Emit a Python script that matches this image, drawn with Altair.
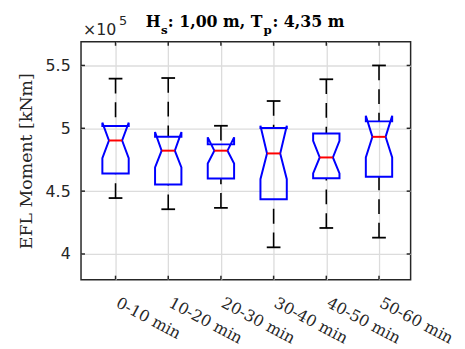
import altair as alt
import pandas as pd

# ---------------- data (values in units of 10^5 kNm) ----------------
categories = ["0-10 min", "10-20 min", "20-30 min", "30-40 min", "40-50 min", "50-60 min"]
positions = [1, 2, 3, 4, 5, 6]
lower_whisker = [4.445, 4.356, 4.367, 4.053, 4.207, 4.130]
q1 = [4.641, 4.553, 4.600, 4.435, 4.602, 4.615]
notch_low = [4.762, 4.688, 4.720, 4.595, 4.641, 4.768]
median = [4.903, 4.822, 4.822, 4.800, 4.768, 4.932]
notch_high = [5.045, 4.970, 4.928, 5.020, 4.900, 5.100]
q3 = [5.018, 4.932, 4.872, 5.003, 4.958, 5.055]
upper_whisker = [5.395, 5.400, 5.020, 5.217, 5.390, 5.500]

y_ticks = [4, 4.5, 5, 5.5]
y_domain = [3.796, 5.688]
x_domain = [0.345, 6.60]

# ---------------- style ----------------
W, H = 334, 241
BOX_HW, NOTCH_HW, CAP_HW = 0.25, 0.125, 0.13
AX = "#262626"
SERIF = "DejaVu Serif"
SANS = "DejaVu Sans"

stats = pd.DataFrame({
    "pos": positions, "cat": categories, "lo": lower_whisker, "q1": q1,
    "nlo": notch_low, "med": median, "nhi": notch_high, "q3": q3, "hi": upper_whisker,
})
stats["cap_l"] = stats["pos"] - CAP_HW
stats["cap_r"] = stats["pos"] + CAP_HW
stats["med_l"] = stats["pos"] - NOTCH_HW
stats["med_r"] = stats["pos"] + NOTCH_HW

# notched outline built from the stats
rows = []
for _, r in stats.iterrows():
    p = r["pos"]
    pts = [(p, r.q1), (p - BOX_HW, r.q1), (p - BOX_HW, r.nlo), (p - NOTCH_HW, r.med),
           (p - BOX_HW, r.nhi), (p - BOX_HW, r.q3), (p + BOX_HW, r.q3), (p + BOX_HW, r.nhi),
           (p + NOTCH_HW, r.med), (p + BOX_HW, r.nlo), (p + BOX_HW, r.q1), (p, r.q1)]
    for k, (xx, yy) in enumerate(pts):
        rows.append({"box": r["cat"], "ord": k, "x": xx, "y": yy})
outline = pd.DataFrame(rows)

label_expr = "[" + ",".join(f"'{c}'" for c in categories) + "][round(datum.value) - 1]"

x_scale = alt.Scale(domain=x_domain, nice=False, zero=False)
y_scale = alt.Scale(domain=y_domain, nice=False, zero=False)
x_axis = alt.Axis(values=positions, labelExpr=label_expr, grid=True, ticks=False, tickSize=0,
                  domain=False, title=None, labelAngle=28, labelAlign="left",
                  labelBaseline="top", labelPadding=15, labelOffset=5,
                  labelFont=SERIF, labelFontSize=16,
                  labelColor=AX, labelOverlap=False, labelBound=False, labelFlush=False)
y_axis = alt.Axis(values=y_ticks, format="~g", grid=True, ticks=False, tickSize=0,
                  domain=False, title="EFL Moment [kNm]", labelFont=SANS, labelFontSize=16,
                  labelColor=AX, labelPadding=11, labelOverlap=False, labelFlush=False,
                  titleFont=SERIF, titleFontSize=17.6,
                  titleFontWeight="normal", titleColor=AX, titleAngle=-90,
                  titleX=-55, titleY=H / 2, titleAlign="center", titleBaseline="middle")


def X(f):
    return alt.X(f, type="quantitative", scale=x_scale, axis=x_axis)


def Y(f):
    return alt.Y(f, type="quantitative", scale=y_scale, axis=y_axis)


base = alt.Chart(stats)

whisk_up = base.mark_rule(color="black", strokeWidth=1.6, strokeDash=[15, 9]).encode(
    x=X("pos"), y=Y("hi"), y2="q3")
whisk_lo = base.mark_rule(color="black", strokeWidth=1.6, strokeDash=[15, 9]).encode(
    x=X("pos"), y=Y("lo"), y2="q1")
cap_up = base.mark_rule(color="black", strokeWidth=1.8).encode(
    x=X("cap_l"), x2="cap_r", y=Y("hi"))
cap_lo = base.mark_rule(color="black", strokeWidth=1.8).encode(
    x=X("cap_l"), x2="cap_r", y=Y("lo"))
boxes = alt.Chart(outline).mark_line(color="#0000ff", strokeWidth=2).encode(
    x=X("x"), y=Y("y"), detail="box:N", order="ord:Q")
medians = base.mark_rule(color="#ff0000", strokeWidth=2).encode(
    x=X("med_l"), x2="med_r", y=Y("med"))

# inward ticks on all four sides
yt = alt.Chart(pd.DataFrame({"v": y_ticks}))
xt = alt.Chart(pd.DataFrame({"v": positions}))
TL = 4
tick_l = yt.mark_rule(color=AX, strokeWidth=1.5).encode(
    y=Y("v"), x=alt.value(0), x2=alt.value(TL))
tick_r = yt.mark_rule(color=AX, strokeWidth=1.5).encode(
    y=Y("v"), x=alt.value(W - TL), x2=alt.value(W))
tick_t = xt.mark_rule(color=AX, strokeWidth=1.5).encode(
    x=X("v"), y=alt.value(0), y2=alt.value(TL))
tick_b = xt.mark_rule(color=AX, strokeWidth=1.5).encode(
    x=X("v"), y=alt.value(H - TL), y2=alt.value(H))


def txt(s, x, y, size, font, weight="normal", color="black"):
    return alt.Chart(pd.DataFrame({"t": [s]})).mark_text(
        align="left", baseline="alphabetic", font=font, fontSize=size,
        fontWeight=weight, color=color).encode(
        text="t:N", x=alt.value(x), y=alt.value(y))


title_parts = [
    txt("H", 65.5, -15, 16, SERIF, "bold"),
    txt("s", 81, -8, 12, SERIF, "bold"),
    txt(": 1,00 m, T", 88, -15, 16, SERIF, "bold"),
    txt("p", 185, -8, 12, SERIF, "bold"),
    txt(": 4,35 m", 194, -15, 16, SERIF, "bold"),
]
exponent = [
    txt("\u00d710", 2, -7, 16, SANS, color=AX),
    txt("5", 38.5, -17, 13, SANS, color=AX),
]

chart = alt.layer(
    whisk_up, whisk_lo, cap_up, cap_lo, boxes, medians,
    tick_l, tick_r, tick_t, tick_b, *title_parts, *exponent
).properties(
    width=W, height=H, autosize=alt.AutoSizeParams(type="none"),
    padding={"left": 74, "top": 32, "right": 47, "bottom": 66},
    background="white",
).configure_view(
    stroke=AX, strokeWidth=1.5
).configure_axis(
    gridColor="#dcdcdc", gridWidth=1.3, gridOpacity=1
)

chart.save("out.html", embed_options={"renderer": "svg", "actions": False})
